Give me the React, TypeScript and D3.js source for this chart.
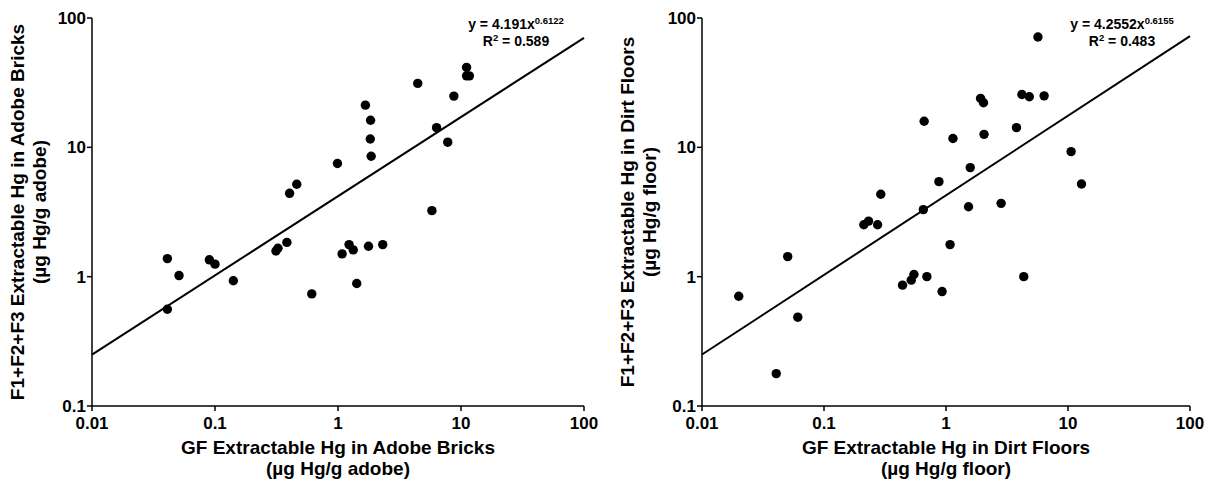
import React from 'react';
import * as d3 from 'd3';

// GF extractable Hg vs F1+F2+F3 extractable Hg (µg Hg/g)
const adobeGF = [0.041, 0.041, 0.051, 0.09, 0.1, 0.141, 0.313, 0.325, 0.384, 0.404, 0.462, 0.612, 0.99, 1.08, 1.23, 1.33, 1.42, 1.67, 1.84, 1.83, 1.86, 1.77, 2.31, 4.45, 5.8, 6.33, 7.8, 8.75, 11.1, 11.1, 11.7];
const adobeF123 = [1.38, 0.56, 1.02, 1.35, 1.25, 0.93, 1.58, 1.66, 1.84, 4.41, 5.18, 0.736, 7.5, 1.5, 1.77, 1.61, 0.885, 21.2, 16.2, 11.6, 8.53, 1.72, 1.77, 31.2, 3.24, 14.2, 10.96, 24.9, 41.5, 35.7, 35.7];

const floorGF = [0.02, 0.0406, 0.0504, 0.061, 0.212, 0.232, 0.275, 0.292, 0.44, 0.519, 0.546, 0.652, 0.662, 0.697, 0.875, 0.929, 1.08, 1.14, 1.53, 1.58, 1.92, 2.03, 2.05, 2.83, 3.78, 4.19, 4.34, 4.82, 5.67, 6.37, 10.6, 12.9];
const floorF123 = [0.706, 0.178, 1.43, 0.486, 2.52, 2.69, 2.52, 4.34, 0.86, 0.94, 1.04, 3.3, 15.9, 1.0, 5.43, 0.767, 1.77, 11.7, 3.47, 6.97, 23.9, 22.1, 12.6, 3.69, 14.2, 25.6, 1.0, 24.6, 71.3, 25.0, 9.27, 5.21];

const xTicks = [0.01, 0.1, 1, 10, 100];
const yTicks = [0.1, 1, 10, 100];
const tickLabels: Record<number, string> = { 0.01: '0.01', 0.1: '0.1', 1: '1', 10: '10', 100: '100' };

const adobeFit = { a: 4.191, b: 0.6122, a_txt: '4.191', b_txt: '0.6122', r2: '0.589' };
const floorFit = { a: 4.2552, b: 0.6155, a_txt: '4.2552', b_txt: '0.6155', r2: '0.483' };

const FONT = 'Arial, "Liberation Sans", Helvetica, sans-serif';

type PanelProps = {
  left: number;
  right: number;
  xs: number[];
  ys: number[];
  fit: typeof adobeFit;
  xTitle: string;
  yTitle: string;
  unit: string;
};

const TOP = 18;
const BOTTOM = 406;

function Panel({ left, right, xs, ys, fit, xTitle, yTitle, unit }: PanelProps) {
  const x = d3.scaleLog().domain([0.01, 100]).range([left, right]);
  const y = d3.scaleLog().domain([0.1, 100]).range([BOTTOM, TOP]);
  const fitLine = d3
    .line<number>()
    .x(d => x(d))
    .y(d => y(fit.a * Math.pow(d, fit.b)));
  const midX = (left + right) / 2;
  const midY = (TOP + BOTTOM) / 2;
  const eqX = right - 68;

  return (
    <g fontFamily={FONT} fontWeight="bold" fill="#000">
      <path d={fitLine([0.01, 100]) || ''} fill="none" stroke="#000" strokeWidth={2} />
      {xs.map((v, i) => (
        <circle key={i} cx={x(v)} cy={y(ys[i])} r={4.7} fill="#000" />
      ))}
      <line x1={left} x2={left} y1={TOP} y2={BOTTOM} stroke="#000" strokeWidth={1.5} />
      <line x1={left} x2={right} y1={BOTTOM} y2={BOTTOM} stroke="#000" strokeWidth={1.5} />
      {yTicks.map(t => (
        <g key={'y' + t}>
          <line x1={left - 5} x2={left} y1={y(t)} y2={y(t)} stroke="#000" strokeWidth={1.5} />
          <text x={left - 6} y={y(t)} dy="0.36em" textAnchor="end" fontSize={17}>
            {tickLabels[t]}
          </text>
        </g>
      ))}
      {xTicks.map(t => (
        <g key={'x' + t}>
          <line x1={x(t)} x2={x(t)} y1={BOTTOM} y2={BOTTOM + 5} stroke="#000" strokeWidth={1.5} />
          <text x={x(t)} y={BOTTOM + 23} textAnchor="middle" fontSize={17}>
            {tickLabels[t]}
          </text>
        </g>
      ))}
      <text x={midX} y={BOTTOM + 48} textAnchor="middle" fontSize={19}>
        {xTitle}
      </text>
      <text x={midX} y={BOTTOM + 69} textAnchor="middle" fontSize={19}>
        {unit}
      </text>
      <g transform={`translate(${left - 68},${midY}) rotate(-90)`}>
        <text x={0} y={0} textAnchor="middle" fontSize={19}>
          {yTitle}
        </text>
        <text x={0} y={22} textAnchor="middle" fontSize={19}>
          {unit}
        </text>
      </g>
      <text x={eqX} y={TOP + 11} textAnchor="middle" fontSize={14}>
        {'y = ' + fit.a_txt + 'x'}
        <tspan fontSize={9.5} dy={-5}>
          {fit.b_txt}
        </tspan>
      </text>
      <text x={eqX} y={TOP + 28} textAnchor="middle" fontSize={14}>
        R<tspan fontSize={9.5} dy={-5}>2</tspan>
        <tspan dy={5}>{' = ' + fit.r2}</tspan>
      </text>
    </g>
  );
}

export default function App() {
  return (
    <div style={{ position: 'absolute', left: 0, top: 0 }}>
      <svg width={1214} height={482} style={{ display: 'block', background: '#fff' }}>
        <Panel
          left={92}
          right={584}
          xs={adobeGF}
          ys={adobeF123}
          fit={adobeFit}
          xTitle="GF Extractable Hg in Adobe Bricks"
          yTitle="F1+F2+F3 Extractable Hg in Adobe Bricks"
          unit="(µg Hg/g adobe)"
        />
        <Panel
          left={702}
          right={1190}
          xs={floorGF}
          ys={floorF123}
          fit={floorFit}
          xTitle="GF Extractable Hg in Dirt Floors"
          yTitle="F1+F2+F3 Extractable Hg in Dirt Floors"
          unit="(µg Hg/g floor)"
        />
      </svg>
    </div>
  );
}
